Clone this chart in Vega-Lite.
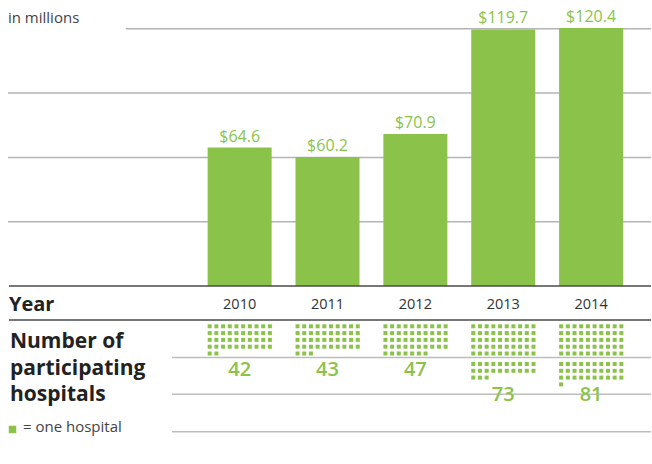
{
  "$schema": "https://vega.github.io/schema/vega-lite/v6.json",
  "width": 652,
  "height": 464,
  "autosize": {"type": "fit", "contains": "padding"},
  "padding": 0,
  "background": "white",
  "config": {"view": {"stroke": null}, "font": "Open Sans", "scale": {"continuousPadding": 0}},
  "datasets": {
    "funding": [
      {"year": 2010, "value": 64.6, "hospitals": 42},
      {"year": 2011, "value": 60.2, "hospitals": 43},
      {"year": 2012, "value": 70.9, "hospitals": 47},
      {"year": 2013, "value": 119.7, "hospitals": 73},
      {"year": 2014, "value": 120.4, "hospitals": 81}
    ],
    "hosp": [
      {"year":2010},{"year":2010},{"year":2010},{"year":2010},{"year":2010},{"year":2010},{"year":2010},{"year":2010},{"year":2010},{"year":2010},
      {"year":2010},{"year":2010},{"year":2010},{"year":2010},{"year":2010},{"year":2010},{"year":2010},{"year":2010},{"year":2010},{"year":2010},
      {"year":2010},{"year":2010},{"year":2010},{"year":2010},{"year":2010},{"year":2010},{"year":2010},{"year":2010},{"year":2010},{"year":2010},
      {"year":2010},{"year":2010},{"year":2010},{"year":2010},{"year":2010},{"year":2010},{"year":2010},{"year":2010},{"year":2010},{"year":2010},
      {"year":2010},{"year":2010},
      {"year":2011},{"year":2011},{"year":2011},{"year":2011},{"year":2011},{"year":2011},{"year":2011},{"year":2011},{"year":2011},{"year":2011},
      {"year":2011},{"year":2011},{"year":2011},{"year":2011},{"year":2011},{"year":2011},{"year":2011},{"year":2011},{"year":2011},{"year":2011},
      {"year":2011},{"year":2011},{"year":2011},{"year":2011},{"year":2011},{"year":2011},{"year":2011},{"year":2011},{"year":2011},{"year":2011},
      {"year":2011},{"year":2011},{"year":2011},{"year":2011},{"year":2011},{"year":2011},{"year":2011},{"year":2011},{"year":2011},{"year":2011},
      {"year":2011},{"year":2011},{"year":2011},
      {"year":2012},{"year":2012},{"year":2012},{"year":2012},{"year":2012},{"year":2012},{"year":2012},{"year":2012},{"year":2012},{"year":2012},
      {"year":2012},{"year":2012},{"year":2012},{"year":2012},{"year":2012},{"year":2012},{"year":2012},{"year":2012},{"year":2012},{"year":2012},
      {"year":2012},{"year":2012},{"year":2012},{"year":2012},{"year":2012},{"year":2012},{"year":2012},{"year":2012},{"year":2012},{"year":2012},
      {"year":2012},{"year":2012},{"year":2012},{"year":2012},{"year":2012},{"year":2012},{"year":2012},{"year":2012},{"year":2012},{"year":2012},
      {"year":2012},{"year":2012},{"year":2012},{"year":2012},{"year":2012},{"year":2012},{"year":2012},
      {"year":2013},{"year":2013},{"year":2013},{"year":2013},{"year":2013},{"year":2013},{"year":2013},{"year":2013},{"year":2013},{"year":2013},
      {"year":2013},{"year":2013},{"year":2013},{"year":2013},{"year":2013},{"year":2013},{"year":2013},{"year":2013},{"year":2013},{"year":2013},
      {"year":2013},{"year":2013},{"year":2013},{"year":2013},{"year":2013},{"year":2013},{"year":2013},{"year":2013},{"year":2013},{"year":2013},
      {"year":2013},{"year":2013},{"year":2013},{"year":2013},{"year":2013},{"year":2013},{"year":2013},{"year":2013},{"year":2013},{"year":2013},
      {"year":2013},{"year":2013},{"year":2013},{"year":2013},{"year":2013},{"year":2013},{"year":2013},{"year":2013},{"year":2013},{"year":2013},
      {"year":2013},{"year":2013},{"year":2013},{"year":2013},{"year":2013},{"year":2013},{"year":2013},{"year":2013},{"year":2013},{"year":2013},
      {"year":2013},{"year":2013},{"year":2013},{"year":2013},{"year":2013},{"year":2013},{"year":2013},{"year":2013},{"year":2013},{"year":2013},
      {"year":2013},{"year":2013},{"year":2013},
      {"year":2014},{"year":2014},{"year":2014},{"year":2014},{"year":2014},{"year":2014},{"year":2014},{"year":2014},{"year":2014},{"year":2014},
      {"year":2014},{"year":2014},{"year":2014},{"year":2014},{"year":2014},{"year":2014},{"year":2014},{"year":2014},{"year":2014},{"year":2014},
      {"year":2014},{"year":2014},{"year":2014},{"year":2014},{"year":2014},{"year":2014},{"year":2014},{"year":2014},{"year":2014},{"year":2014},
      {"year":2014},{"year":2014},{"year":2014},{"year":2014},{"year":2014},{"year":2014},{"year":2014},{"year":2014},{"year":2014},{"year":2014},
      {"year":2014},{"year":2014},{"year":2014},{"year":2014},{"year":2014},{"year":2014},{"year":2014},{"year":2014},{"year":2014},{"year":2014},
      {"year":2014},{"year":2014},{"year":2014},{"year":2014},{"year":2014},{"year":2014},{"year":2014},{"year":2014},{"year":2014},{"year":2014},
      {"year":2014},{"year":2014},{"year":2014},{"year":2014},{"year":2014},{"year":2014},{"year":2014},{"year":2014},{"year":2014},{"year":2014},
      {"year":2014},{"year":2014},{"year":2014},{"year":2014},{"year":2014},{"year":2014},{"year":2014},{"year":2014},{"year":2014},{"year":2014},
      {"year":2014}
    ]
  },
  "layer": [
    {
      "data": {"values": [{"v": 30}, {"v": 60}, {"v": 90}]},
      "mark": {"type": "rule", "color": "#b4b4b4", "strokeWidth": 1.5},
      "encoding": {
        "x": {"datum": 2007.3636, "type": "quantitative", "axis": null, "scale": {"domain": [2007.2727, 2014.6818], "nice": false, "zero": false, "padding": 0}},
        "x2": {"datum": 2014.6818},
        "y": {"field": "v", "type": "quantitative", "axis": null, "scale": {"domain": [-83.05, 133.44], "nice": false, "zero": false, "padding": 0}}
      }
    },
    {
      "data": {"values": [{"v": 120}]},
      "mark": {"type": "rule", "color": "#b4b4b4", "strokeWidth": 1.5},
      "encoding": {
        "x": {"datum": 2008.7045, "type": "quantitative", "axis": null, "scale": {"domain": [2007.2727, 2014.6818], "nice": false, "zero": false, "padding": 0}},
        "x2": {"datum": 2014.6818},
        "y": {"field": "v", "type": "quantitative", "axis": null, "scale": {"domain": [-83.05, 133.44], "nice": false, "zero": false, "padding": 0}}
      }
    },
    {
      "data": {"values": [{"v": -33.36}, {"v": -50.53}, {"v": -67.98}]},
      "mark": {"type": "rule", "color": "#bdbdbd", "strokeWidth": 1.5},
      "encoding": {
        "x": {"datum": 2009.2307, "type": "quantitative", "axis": null, "scale": {"domain": [2007.2727, 2014.6818], "nice": false, "zero": false, "padding": 0}},
        "x2": {"datum": 2014.6818},
        "y": {"field": "v", "type": "quantitative", "axis": null, "scale": {"domain": [-83.05, 133.44], "nice": false, "zero": false, "padding": 0}}
      }
    },
    {
      "data": {"name": "funding"},
      "mark": {"type": "bar", "color": "#8bc34a", "width": 64},
      "encoding": {
        "x": {"field": "year", "type": "quantitative", "axis": null, "scale": {"domain": [2007.2727, 2014.6818], "nice": false, "zero": false, "padding": 0}},
        "y": {"field": "value", "type": "quantitative", "axis": null, "scale": {"domain": [-83.05, 133.44], "nice": false, "zero": false, "padding": 0}},
        "y2": {"datum": 0}
      }
    },
    {
      "data": {"values": [{"v": 0}, {"v": -15.86}]},
      "mark": {"type": "rule", "color": "#4a4a4a", "strokeWidth": 1.6},
      "encoding": {
        "x": {"datum": 2007.375, "type": "quantitative", "axis": null, "scale": {"domain": [2007.2727, 2014.6818], "nice": false, "zero": false, "padding": 0}},
        "x2": {"datum": 2014.6818},
        "y": {"field": "v", "type": "quantitative", "axis": null, "scale": {"domain": [-83.05, 133.44], "nice": false, "zero": false, "padding": 0}}
      }
    },
    {
      "data": {"name": "funding"},
      "mark": {"type": "text", "color": "#8bc34a", "fontSize": 16, "baseline": "alphabetic", "align": "center", "dy": -6},
      "encoding": {
        "x": {"field": "year", "type": "quantitative", "axis": null, "scale": {"domain": [2007.2727, 2014.6818], "nice": false, "zero": false, "padding": 0}},
        "y": {"field": "value", "type": "quantitative", "axis": null, "scale": {"domain": [-83.05, 133.44], "nice": false, "zero": false, "padding": 0}},
        "text": {"field": "value", "type": "quantitative", "format": "$.1f"}
      }
    },
    {
      "data": {"name": "funding"},
      "mark": {"type": "text", "color": "#333333", "fontSize": 14.5, "baseline": "alphabetic", "align": "center"},
      "encoding": {
        "x": {"field": "year", "type": "quantitative", "axis": null, "scale": {"domain": [2007.2727, 2014.6818], "nice": false, "zero": false, "padding": 0}},
        "y": {"datum": -10.87, "type": "quantitative", "axis": null, "scale": {"domain": [-83.05, 133.44], "nice": false, "zero": false, "padding": 0}},
        "text": {"field": "year", "type": "nominal"}
      }
    },
    {
      "data": {"name": "hosp"},
      "transform": [
        {"window": [{"op": "row_number", "as": "i"}], "groupby": ["year"]},
        {"calculate": "(datum.i - 1) % 10", "as": "c"},
        {"calculate": "floor((datum.i - 1) / 10)", "as": "r"},
        {"calculate": "datum.year - 0.3409 + datum.c * 0.07614", "as": "dotx"},
        {"calculate": "-18.80 - datum.r * 3.173 - (datum.r >= 5 ? 1.726 : 0)", "as": "doty"}
      ],
      "mark": {"type": "square", "size": 16, "color": "#8bc34a", "opacity": 1, "filled": true},
      "encoding": {
        "x": {"field": "dotx", "type": "quantitative", "axis": null, "scale": {"domain": [2007.2727, 2014.6818], "nice": false, "zero": false, "padding": 0}},
        "y": {"field": "doty", "type": "quantitative", "axis": null, "scale": {"domain": [-83.05, 133.44], "nice": false, "zero": false, "padding": 0}}
      }
    },
    {
      "data": {"name": "funding"},
      "transform": [{"calculate": "datum.hospitals > 50 ? -53.66 : -41.99", "as": "ly"}],
      "mark": {"type": "text", "color": "#8bc34a", "fontSize": 20, "fontWeight": 600, "baseline": "alphabetic", "align": "center"},
      "encoding": {
        "x": {"field": "year", "type": "quantitative", "axis": null, "scale": {"domain": [2007.2727, 2014.6818], "nice": false, "zero": false, "padding": 0}},
        "y": {"field": "ly", "type": "quantitative", "axis": null, "scale": {"domain": [-83.05, 133.44], "nice": false, "zero": false, "padding": 0}},
        "text": {"field": "hospitals", "type": "nominal"}
      }
    },
    {
      "data": {"values": [{}]},
      "mark": {"type": "text", "text": "in millions", "color": "#444444", "fontSize": 15, "align": "left", "baseline": "alphabetic"},
      "encoding": {
        "x": {"datum": 2007.3636, "type": "quantitative", "axis": null, "scale": {"domain": [2007.2727, 2014.6818], "nice": false, "zero": false, "padding": 0}},
        "y": {"datum": 122.94, "type": "quantitative", "axis": null, "scale": {"domain": [-83.05, 133.44], "nice": false, "zero": false, "padding": 0}}
      }
    },
    {
      "data": {"values": [{}]},
      "mark": {"type": "text", "text": "Year", "color": "#222222", "fontSize": 20, "fontWeight": "bold", "align": "left", "baseline": "alphabetic"},
      "encoding": {
        "x": {"datum": 2007.375, "type": "quantitative", "axis": null, "scale": {"domain": [2007.2727, 2014.6818], "nice": false, "zero": false, "padding": 0}},
        "y": {"datum": -11.52, "type": "quantitative", "axis": null, "scale": {"domain": [-83.05, 133.44], "nice": false, "zero": false, "padding": 0}}
      }
    },
    {
      "data": {"values": [{}]},
      "mark": {"type": "text", "text": ["Number of", "participating", "hospitals"], "color": "#222222", "fontSize": 21, "fontWeight": "bold", "align": "left", "baseline": "alphabetic", "lineHeight": 26.6},
      "encoding": {
        "x": {"datum": 2007.3864, "type": "quantitative", "axis": null, "scale": {"domain": [2007.2727, 2014.6818], "nice": false, "zero": false, "padding": 0}},
        "y": {"datum": -29.07, "type": "quantitative", "axis": null, "scale": {"domain": [-83.05, 133.44], "nice": false, "zero": false, "padding": 0}}
      }
    },
    {
      "data": {"values": [{}]},
      "mark": {"type": "square", "size": 56, "color": "#8bc34a", "opacity": 1, "filled": true},
      "encoding": {
        "x": {"datum": 2007.415, "type": "quantitative", "axis": null, "scale": {"domain": [2007.2727, 2014.6818], "nice": false, "zero": false, "padding": 0}},
        "y": {"datum": -66.95, "type": "quantitative", "axis": null, "scale": {"domain": [-83.05, 133.44], "nice": false, "zero": false, "padding": 0}}
      }
    },
    {
      "data": {"values": [{}]},
      "mark": {"type": "text", "text": "= one hospital", "color": "#444444", "fontSize": 15, "align": "left", "baseline": "alphabetic"},
      "encoding": {
        "x": {"datum": 2007.534, "type": "quantitative", "axis": null, "scale": {"domain": [2007.2727, 2014.6818], "nice": false, "zero": false, "padding": 0}},
        "y": {"datum": -68.35, "type": "quantitative", "axis": null, "scale": {"domain": [-83.05, 133.44], "nice": false, "zero": false, "padding": 0}}
      }
    }
  ]
}
